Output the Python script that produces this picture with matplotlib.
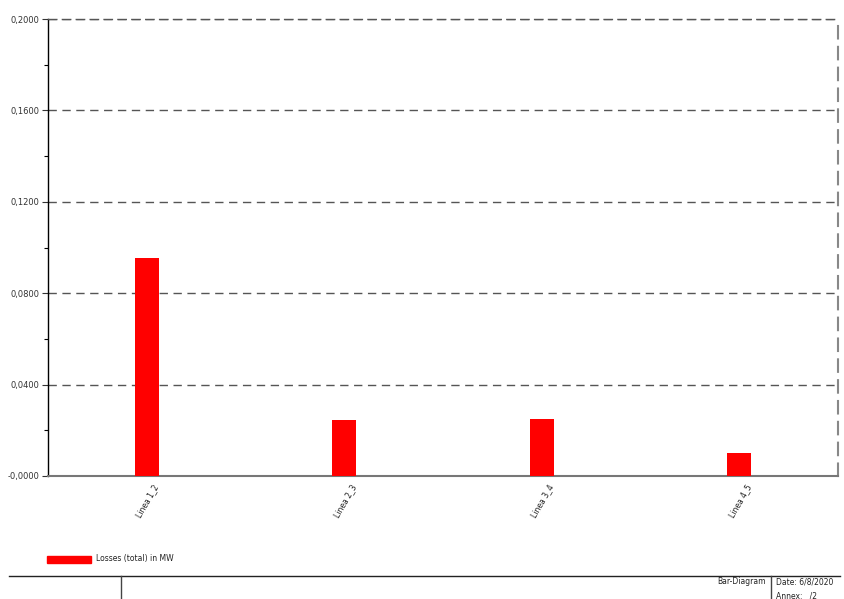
import matplotlib
matplotlib.use("Agg")
import matplotlib.pyplot as plt
from matplotlib.ticker import FixedLocator, FuncFormatter
from matplotlib.patches import Rectangle
from matplotlib.lines import Line2D
from matplotlib.transforms import ScaledTranslation

categories = ["Linea 1_2", "Linea 2_3", "Linea 3_4", "Linea 4_5"]
losses_mw = [0.0954, 0.0245, 0.0249, 0.0101]
y_ticks = [0.0, 0.04, 0.08, 0.12, 0.16, 0.20]
legend_label = "Losses (total) in MW"

W, H = 844, 599
fig = plt.figure(figsize=(W / 100, H / 100), dpi=100)
fig.patch.set_facecolor("white")

left, right, top, bottom = 48, 838, 19, 476
ax = fig.add_axes([left / W, 1 - bottom / H, (right - left) / W, (bottom - top) / H])

x = list(range(len(categories)))
ax.bar(x, losses_mw, width=0.12, color="#ff0000", zorder=3)
ax.set_xlim(-0.5, len(categories) - 0.5)
ax.set_ylim(0, 0.2)

# grid
for v in y_ticks[1:]:
    ax.axhline(v, color="#555555", lw=1.0, ls=(0, (6, 4)), zorder=1)

ax.yaxis.set_major_locator(FixedLocator(y_ticks))
ax.yaxis.set_minor_locator(FixedLocator([0.02, 0.06, 0.10, 0.14, 0.18]))


def fmt(v, pos):
    if abs(v) < 1e-12:
        return "-0,0000"
    return f"{v:.4f}".replace(".", ",")


ax.yaxis.set_major_formatter(FuncFormatter(fmt))
ax.tick_params(axis="y", which="major", length=4, width=0.8, labelsize=6, pad=2, colors="#333333")
ax.tick_params(axis="y", which="minor", length=3, width=0.8)
ax.set_xticks(x)
ax.set_xticklabels(categories, rotation=60, ha="right", rotation_mode="anchor", fontsize=5.5,
                   color="#222222")
ax.tick_params(axis="x", length=0, pad=5)
shift = ScaledTranslation(6 / 100, 0, fig.dpi_scale_trans)
for lbl in ax.get_xticklabels():
    lbl.set_transform(lbl.get_transform() + shift)

ax.spines["left"].set_color("#000000")
ax.spines["left"].set_linewidth(1.0)
ax.spines["bottom"].set_color("#777777")
ax.spines["bottom"].set_linewidth(1.5)
for s in ("top", "right"):
    ax.spines[s].set_color("#888888")
    ax.spines[s].set_linewidth(1.5)
    ax.spines[s].set_linestyle((0, (6, 4)))
ax.spines["top"].set_color("#555555")
ax.spines["top"].set_linewidth(1.0)

# legend
fig.patches.append(Rectangle((47 / W, 1 - 563 / H), 44 / W, 7 / H,
                             transform=fig.transFigure, color="#ff0000"))
fig.text(96 / W, 1 - 559 / H, legend_label, fontsize=5.5, va="center", ha="left", color="#222222")

# title block
fig.add_artist(Line2D([9 / W, 840 / W], [1 - 576 / H, 1 - 576 / H], color="#222222", lw=1.0,
                      transform=fig.transFigure))
fig.add_artist(Line2D([121 / W, 121 / W], [1 - 576 / H, 0], color="#444444", lw=1.0,
                      transform=fig.transFigure))
fig.add_artist(Line2D([771 / W, 771 / W], [1 - 576 / H, 0], color="#444444", lw=1.0,
                      transform=fig.transFigure))
fig.text(766 / W, 1 - 582 / H, "Bar-Diagram", fontsize=5.5, ha="right", va="center", color="#222222")
fig.text(776 / W, 1 - 582 / H, "Date: 6/8/2020", fontsize=5.5, ha="left", va="center", color="#222222")
fig.text(776 / W, 1 - 596 / H, "Annex:   /2", fontsize=5.5, ha="left", va="center", color="#222222")

fig.savefig("out.png", dpi=100)
